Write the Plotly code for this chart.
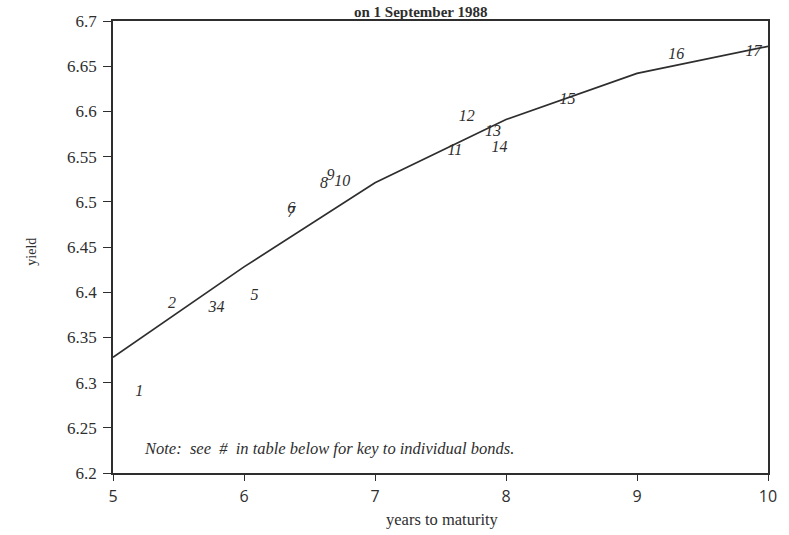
import plotly.graph_objects as go

# Fitted yield curve, evaluated at whole years to maturity
curve_years = [5, 6, 7, 8, 9, 10]
curve_yield = [6.328, 6.428, 6.521, 6.591, 6.642, 6.672]

# Individual bonds: number, years to maturity, observed yield
bond_ids = ["1", "2", "3", "4", "5", "6", "7", "8", "9", "10",
            "11", "12", "13", "14", "15", "16", "17"]
bond_years = [5.20, 5.45, 5.76, 5.82, 6.08, 6.36, 6.36, 6.61, 6.66, 6.75,
              7.61, 7.70, 7.90, 7.95, 8.47, 9.30, 9.89]
bond_yield = [6.290, 6.387, 6.383, 6.383, 6.396, 6.492, 6.488, 6.520, 6.529, 6.522,
              6.556, 6.594, 6.577, 6.559, 6.613, 6.662, 6.666]

x_ticks = [5, 6, 7, 8, 9, 10]
y_ticks = [6.2, 6.25, 6.3, 6.35, 6.4, 6.45, 6.5, 6.55, 6.6, 6.65, 6.7]
y_tick_text = ["6.2", "6.25", "6.3", "6.35", "6.4", "6.45", "6.5", "6.55", "6.6", "6.65", "6.7"]

serif = "Liberation Serif, Times New Roman, serif"
ink = "#2e2e2e"

fig = go.Figure()
fig.add_trace(go.Scatter(
    x=curve_years, y=curve_yield, mode="lines",
    line=dict(color=ink, width=1.7), hoverinfo="skip", showlegend=False))
fig.add_trace(go.Scatter(
    x=bond_years, y=bond_yield, mode="text", text=bond_ids,
    textposition="middle center",
    textfont=dict(family=serif, size=16, color=ink, style="italic"),
    showlegend=False))

fig.update_layout(
    width=789, height=535,
    margin=dict(l=113, r=12, t=18, b=62),
    paper_bgcolor="white", plot_bgcolor="white",
    xaxis=dict(range=[5, 10], tickvals=x_ticks, ticks="outside", ticklen=6,
               tickcolor=ink, tickwidth=1.2, showgrid=False, zeroline=False,
               showline=True, linecolor=ink, linewidth=1.6, mirror=True,
               ticklabelstandoff=2,
               tickfont=dict(family="Open Sans, DejaVu Sans, sans-serif", size=16, color=ink)),
    yaxis=dict(range=[6.2, 6.7], tickvals=y_ticks, ticktext=y_tick_text,
               ticks="outside", ticklen=8, tickcolor=ink, tickwidth=1.2,
               showgrid=False, zeroline=False,
               showline=True, linecolor=ink, linewidth=1.6, mirror=True,
               ticklabelstandoff=3,
               tickfont=dict(family=serif, size=17, color=ink)),
    annotations=[
        dict(text="<b>on 1 September 1988</b>", xref="paper", yref="paper",
             x=0.47, y=1.0198, xanchor="center", yanchor="middle", showarrow=False,
             font=dict(family=serif, size=15, color=ink)),
        dict(text="yield", xref="paper", yref="paper", x=-0.125, y=0.49,
             xanchor="center", yanchor="middle", textangle=-90, showarrow=False,
             font=dict(family=serif, size=14, color=ink)),
        dict(text="years to maturity", xref="paper", yref="paper", x=0.503, y=-0.103,
             xanchor="center", yanchor="middle", showarrow=False,
             font=dict(family=serif, size=16.5, color=ink)),
        dict(text="Note:  see  #  in table below for key to individual bonds.",
             xref="paper", yref="paper", x=0.0437, y=0.055,
             xanchor="left", yanchor="middle", showarrow=False,
             font=dict(family=serif, size=16.5, color=ink, style="italic")),
    ],
)

fig.write_html("out.html")
